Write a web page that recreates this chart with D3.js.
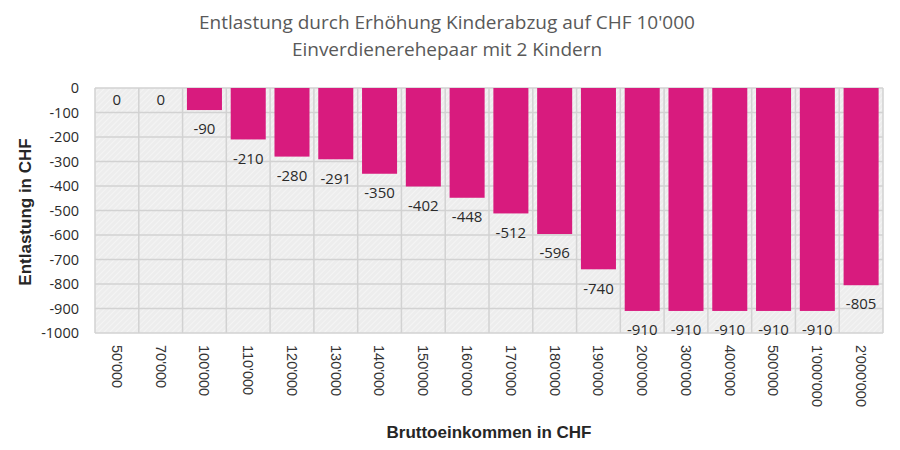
<!DOCTYPE html>
<html><head><meta charset="utf-8">
<script src="https://cdn.jsdelivr.net/npm/d3@7"></script>
<style>body{margin:0;background:#fff}</style>
</head><body>
<svg id="c" width="900" height="450"></svg>
<script>
const categories = ["50'000","70'000","100'000","110'000","120'000","130'000","140'000","150'000","160'000","170'000","180'000","190'000","200'000","300'000","400'000","500'000","1'000'000","2'000'000"];
const values = [0,0,-90,-210,-280,-291,-350,-402,-448,-512,-596,-740,-910,-910,-910,-910,-910,-805];
const yTicks = [0,-100,-200,-300,-400,-500,-600,-700,-800,-900,-1000];
const titleLines = ["Entlastung durch Erhöhung Kinderabzug auf CHF 10'000","Einverdienerehepaar mit 2 Kindern"];
const xTitle = "Bruttoeinkommen in CHF";
const yTitle = "Entlastung in CHF";

const svg = d3.select("#c");
const L = 95, R = 883, T = 88, B = 333;
const x = d3.scaleBand().domain(categories).range([L, R]).paddingInner(0.2).paddingOuter(0.1);
const xc = d3.scaleBand().domain(categories).range([L, R]);
const y = d3.scaleLinear().domain([0, -1000]).range([T, B]);

const defs = svg.append("defs");
const pat = defs.append("pattern").attr("id","hatch").attr("width",4).attr("height",4)
  .attr("patternUnits","userSpaceOnUse").attr("patternTransform","rotate(45)");
pat.append("rect").attr("width",4).attr("height",4).attr("fill","#ededed");
pat.append("line").attr("x1",0).attr("y1",0).attr("x2",0).attr("y2",4).attr("stroke","#f7f7f7").attr("stroke-width",1.5);

svg.append("rect").attr("x",L).attr("y",T).attr("width",R-L).attr("height",B-T).attr("fill","url(#hatch)");

// horizontal grid
svg.append("g").selectAll("line").data(yTicks).join("line")
  .attr("x1",L).attr("x2",R).attr("y1",d=>y(d)).attr("y2",d=>y(d))
  .attr("stroke","#d2d2d2").attr("stroke-width",1.5);
// vertical grid at category boundaries
const bounds = categories.map(c=>xc(c)).concat([R]);
svg.append("g").selectAll("line").data(bounds).join("line")
  .attr("x1",d=>d).attr("x2",d=>d).attr("y1",T).attr("y2",B)
  .attr("stroke","#d2d2d2").attr("stroke-width",1.5);

// bars
svg.append("g").selectAll("rect").data(values).join("rect")
  .attr("x",(d,i)=>x(categories[i])).attr("width",x.bandwidth())
  .attr("y",T).attr("height",d=>y(d)-T).attr("fill","#d81b7e");

// value labels
svg.append("g").selectAll("text").data(values).join("text")
  .attr("x",(d,i)=>x(categories[i])+x.bandwidth()/2)
  .attr("y",d=>y(d)+(d===0?12:19))
  .attr("dy","0.35em").attr("text-anchor","middle")
  .attr("font-family","Open Sans, sans-serif").attr("font-size",15).attr("fill","#2a2a2a")
  .text(d=>d);

// y axis
const yAxis = d3.axisLeft(y).tickValues(yTicks).tickSize(0).tickPadding(0).tickFormat(d=>d);
const gy = svg.append("g").attr("transform",`translate(${L-16},0)`).call(yAxis);
gy.select(".domain").remove();
gy.selectAll("text").attr("font-family","Open Sans, sans-serif").attr("font-size",14.5).attr("fill","#2a2a2a");

// x axis
const xAxis = d3.axisBottom(xc).tickSize(0).tickPadding(0);
const gx = svg.append("g").attr("transform",`translate(0,${B})`).call(xAxis);
gx.select(".domain").remove();
gx.selectAll("text").attr("font-family","Liberation Sans, Arial, sans-serif").attr("font-size",14.5).attr("fill","#333")
  .attr("text-anchor","start").attr("dy","0.35em").attr("y",0)
  .attr("transform","translate(0,12) rotate(90)");

// titles
svg.append("g").selectAll("text").data(titleLines).join("text")
  .attr("x",447).attr("y",(d,i)=>29+i*27).attr("text-anchor","middle")
  .attr("font-family","Open Sans, sans-serif").attr("font-size",19).attr("fill","#595959")
  .text(d=>d);

svg.append("text").attr("x",489).attr("y",438).attr("text-anchor","middle")
  .attr("font-family","Liberation Sans, Arial, sans-serif").attr("font-weight","bold").attr("font-size",17).attr("fill","#262626")
  .text(xTitle);

svg.append("text").attr("transform","translate(31,212) rotate(-90)").attr("text-anchor","middle")
  .attr("font-family","Liberation Sans, Arial, sans-serif").attr("font-weight","bold").attr("font-size",17).attr("fill","#262626")
  .text(yTitle);
</script>
</body></html>
